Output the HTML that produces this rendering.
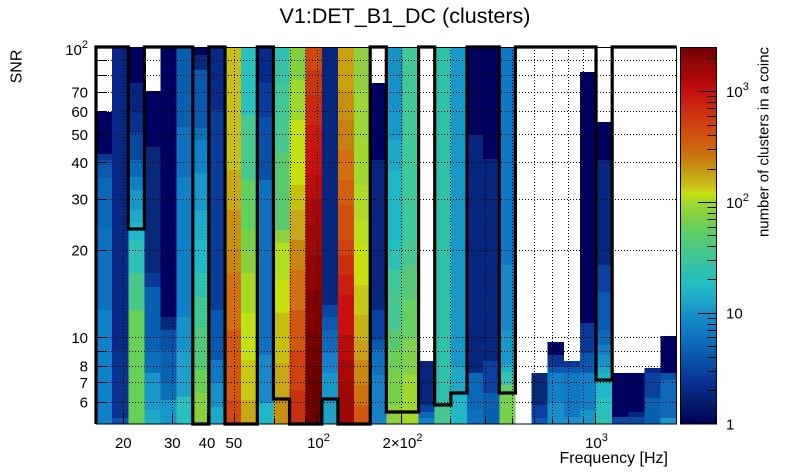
<!DOCTYPE html>
<html><head><meta charset="utf-8"><style>
html,body{margin:0;padding:0;background:#fff;}
svg{display:block;font-family:"Liberation Sans",Arial,sans-serif;}
</style></head><body>
<svg width="805" height="472" viewBox="0 0 805 472" xmlns="http://www.w3.org/2000/svg">
<defs>
<linearGradient id="cb" gradientUnits="userSpaceOnUse" x1="0" y1="424" x2="0" y2="47">
<stop offset="0" stop-color="#00005a"/>
<stop offset="0.019" stop-color="#020a60"/>
<stop offset="0.064" stop-color="#062070"/>
<stop offset="0.109" stop-color="#083090"/>
<stop offset="0.151" stop-color="#0a48a0"/>
<stop offset="0.196" stop-color="#0a60b0"/>
<stop offset="0.241" stop-color="#1078c0"/>
<stop offset="0.294" stop-color="#1890c8"/>
<stop offset="0.328" stop-color="#20a8c8"/>
<stop offset="0.373" stop-color="#20c0c0"/>
<stop offset="0.408" stop-color="#30c0b0"/>
<stop offset="0.461" stop-color="#48c888"/>
<stop offset="0.514" stop-color="#60d060"/>
<stop offset="0.548" stop-color="#80d048"/>
<stop offset="0.586" stop-color="#a0d830"/>
<stop offset="0.613" stop-color="#c8e010"/>
<stop offset="0.629" stop-color="#c8c018"/>
<stop offset="0.655" stop-color="#c8a818"/>
<stop offset="0.682" stop-color="#c89010"/>
<stop offset="0.719" stop-color="#c87010"/>
<stop offset="0.753" stop-color="#d05810"/>
<stop offset="0.798" stop-color="#d04010"/>
<stop offset="0.841" stop-color="#c82810"/>
<stop offset="0.881" stop-color="#c81010"/>
<stop offset="0.912" stop-color="#b00808"/>
<stop offset="0.958" stop-color="#900808"/>
<stop offset="1" stop-color="#6e0000"/>
</linearGradient>
<clipPath id="pc"><rect x="96" y="47" width="580.7" height="377"/></clipPath>
</defs>

<!-- Title -->
<text x="405" y="23" font-size="21.5" text-anchor="middle">V1:DET_B1_DC (clusters)</text>

<!-- Heatmap -->
<g clip-path="url(#pc)" shape-rendering="crispEdges">
<g transform="translate(96,0)">
<rect width="16.4" y="112" height="42" fill="#000060"/><rect width="16.4" y="154" height="6" fill="#0a3890"/><rect width="16.4" y="160" height="5" fill="#0a50a8"/><rect width="16.4" y="165" height="13" fill="#0a58b0"/><rect width="16.4" y="178" height="50" fill="#0a68b8"/><rect width="16.4" y="228" height="82" fill="#1070c0"/><rect width="16.4" y="310" height="114" fill="#1080c8"/>
</g>
<g transform="translate(112.13,0)">
<rect width="16.4" y="47" height="303" fill="#082888"/><rect width="16.4" y="350" height="68" fill="#0a3490"/><rect width="16.4" y="418" height="6" fill="#0a50a8"/>
</g>
<g transform="translate(128.26,0)">
<rect width="16.4" y="47" height="36" fill="#000060"/><rect width="16.4" y="83" height="30" fill="#062680"/><rect width="16.4" y="113" height="20" fill="#08308c"/><rect width="16.4" y="133" height="27" fill="#0a48a0"/><rect width="16.4" y="160" height="17" fill="#0a68b8"/><rect width="16.4" y="177" height="13" fill="#1080c0"/><rect width="16.4" y="190" height="20" fill="#1898c8"/><rect width="16.4" y="210" height="13" fill="#20a8c8"/><rect width="16.4" y="223" height="17" fill="#20b8c8"/><rect width="16.4" y="240" height="33" fill="#30c0b8"/><rect width="16.4" y="273" height="37" fill="#48c88a"/><rect width="16.4" y="310" height="114" fill="#68d058"/>
</g>
<g transform="translate(144.39,0)">
<rect width="16.4" y="91" height="56" fill="#000060"/><rect width="16.4" y="147" height="126" fill="#082878"/><rect width="16.4" y="273" height="14" fill="#0a3a98"/><rect width="16.4" y="287" height="63" fill="#0a60b0"/><rect width="16.4" y="350" height="23" fill="#0a70b8"/><rect width="16.4" y="373" height="37" fill="#1898c8"/><rect width="16.4" y="410" height="14" fill="#20a8c8"/>
</g>
<g transform="translate(160.52,0)">
<rect width="16.4" y="47" height="270" fill="#000060"/><rect width="16.4" y="317" height="13" fill="#082880"/><rect width="16.4" y="330" height="20" fill="#0a50a8"/><rect width="16.4" y="350" height="33" fill="#0a60b0"/><rect width="16.4" y="383" height="17" fill="#0a70b8"/><rect width="16.4" y="400" height="24" fill="#1898c8"/>
</g>
<g transform="translate(176.65,0)">
<rect width="16.4" y="47" height="80" fill="#0a60b0"/><rect width="16.4" y="127" height="50" fill="#1070c0"/><rect width="16.4" y="177" height="140" fill="#1080c8"/><rect width="16.4" y="317" height="33" fill="#1890c8"/><rect width="16.4" y="350" height="47" fill="#20a0c8"/><rect width="16.4" y="397" height="27" fill="#28c0c0"/>
</g>
<g transform="translate(192.78,0)">
<rect width="16.4" y="47" height="8" fill="#000060"/><rect width="16.4" y="55" height="15" fill="#082878"/><rect width="16.4" y="70" height="58" fill="#0a58b0"/><rect width="16.4" y="128" height="12" fill="#0a70b8"/><rect width="16.4" y="140" height="33" fill="#1080c8"/><rect width="16.4" y="173" height="37" fill="#1898c8"/><rect width="16.4" y="210" height="30" fill="#20a8c8"/><rect width="16.4" y="240" height="33" fill="#20b8c8"/><rect width="16.4" y="273" height="24" fill="#30c0b0"/><rect width="16.4" y="297" height="30" fill="#40c890"/><rect width="16.4" y="327" height="43" fill="#50c878"/><rect width="16.4" y="370" height="23" fill="#68d058"/><rect width="16.4" y="393" height="31" fill="#88d040"/>
</g>
<g transform="translate(208.91,0)">
<rect width="16.4" y="47" height="63" fill="#062a88"/><rect width="16.4" y="110" height="200" fill="#0a3c98"/><rect width="16.4" y="310" height="50" fill="#0a58b0"/><rect width="16.4" y="360" height="23" fill="#1078c0"/><rect width="16.4" y="383" height="24" fill="#1890c8"/><rect width="16.4" y="407" height="17" fill="#20a8c8"/>
</g>
<g transform="translate(225.04,0)">
<rect width="16.4" y="47" height="123" fill="#c8c018"/><rect width="16.4" y="170" height="40" fill="#c8a818"/><rect width="16.4" y="210" height="40" fill="#c89010"/><rect width="16.4" y="250" height="23" fill="#c88810"/><rect width="16.4" y="273" height="57" fill="#d07010"/><rect width="16.4" y="330" height="70" fill="#d05810"/><rect width="16.4" y="400" height="24" fill="#d04810"/>
</g>
<g transform="translate(241.17,0)">
<rect width="16.4" y="47" height="68" fill="#28c0c0"/><rect width="16.4" y="115" height="65" fill="#48c890"/><rect width="16.4" y="180" height="50" fill="#60d060"/><rect width="16.4" y="230" height="20" fill="#78d048"/><rect width="16.4" y="250" height="23" fill="#88d040"/><rect width="16.4" y="273" height="40" fill="#a8d828"/><rect width="16.4" y="313" height="47" fill="#c0e018"/><rect width="16.4" y="360" height="40" fill="#c8c818"/><rect width="16.4" y="400" height="24" fill="#c8a818"/>
</g>
<g transform="translate(257.30,0)">
<rect width="16.4" y="47" height="36" fill="#062a88"/><rect width="16.4" y="83" height="34" fill="#0a3c98"/><rect width="16.4" y="117" height="63" fill="#0a50a8"/><rect width="16.4" y="180" height="175" fill="#1070c0"/><rect width="16.4" y="355" height="48" fill="#1888c8"/><rect width="16.4" y="403" height="21" fill="#20b8c8"/>
</g>
<g transform="translate(273.43,0)">
<rect width="16.4" y="47" height="13" fill="#30c0b0"/><rect width="16.4" y="60" height="23" fill="#38c0a8"/><rect width="16.4" y="83" height="34" fill="#40c898"/><rect width="16.4" y="117" height="36" fill="#48c890"/><rect width="16.4" y="153" height="77" fill="#58c870"/><rect width="16.4" y="230" height="13" fill="#90d040"/><rect width="16.4" y="243" height="37" fill="#b0e020"/><rect width="16.4" y="280" height="33" fill="#c8e010"/><rect width="16.4" y="313" height="50" fill="#c8c010"/><rect width="16.4" y="363" height="34" fill="#c8a818"/><rect width="16.4" y="397" height="27" fill="#c89010"/>
</g>
<g transform="translate(289.56,0)">
<rect width="16.4" y="47" height="33" fill="#80d040"/><rect width="16.4" y="80" height="40" fill="#a0d830"/><rect width="16.4" y="120" height="40" fill="#c0e018"/><rect width="16.4" y="160" height="25" fill="#c8e010"/><rect width="16.4" y="185" height="25" fill="#c8c010"/><rect width="16.4" y="210" height="30" fill="#c8a818"/><rect width="16.4" y="240" height="30" fill="#c88810"/><rect width="16.4" y="270" height="40" fill="#d07010"/><rect width="16.4" y="310" height="40" fill="#d05810"/><rect width="16.4" y="350" height="40" fill="#d04010"/><rect width="16.4" y="390" height="34" fill="#c83010"/>
</g>
<g transform="translate(305.69,0)">
<rect width="16.4" y="47" height="23" fill="#d04810"/><rect width="16.4" y="70" height="25" fill="#c83810"/><rect width="16.4" y="95" height="30" fill="#c82810"/><rect width="16.4" y="125" height="25" fill="#c81810"/><rect width="16.4" y="150" height="25" fill="#c81010"/><rect width="16.4" y="175" height="25" fill="#b80c0c"/><rect width="16.4" y="200" height="25" fill="#a80808"/><rect width="16.4" y="225" height="30" fill="#a00808"/><rect width="16.4" y="255" height="35" fill="#900404"/><rect width="16.4" y="290" height="40" fill="#800000"/><rect width="16.4" y="330" height="35" fill="#780000"/><rect width="16.4" y="365" height="59" fill="#700000"/>
</g>
<g transform="translate(321.82,0)">
<rect width="16.4" y="47" height="258" fill="#062680"/><rect width="16.4" y="305" height="12" fill="#0a48a0"/><rect width="16.4" y="317" height="13" fill="#0a58b0"/><rect width="16.4" y="330" height="23" fill="#1068b8"/><rect width="16.4" y="353" height="20" fill="#1880c8"/><rect width="16.4" y="373" height="30" fill="#1898c8"/><rect width="16.4" y="403" height="21" fill="#20a0c8"/>
</g>
<g transform="translate(337.95,0)">
<rect width="16.4" y="47" height="43" fill="#c8a010"/><rect width="16.4" y="90" height="30" fill="#c89010"/><rect width="16.4" y="120" height="30" fill="#c88010"/><rect width="16.4" y="150" height="30" fill="#d07010"/><rect width="16.4" y="180" height="25" fill="#d06010"/><rect width="16.4" y="205" height="35" fill="#d05010"/><rect width="16.4" y="240" height="15" fill="#d04010"/><rect width="16.4" y="255" height="20" fill="#c83010"/><rect width="16.4" y="275" height="20" fill="#c82010"/><rect width="16.4" y="295" height="40" fill="#c81010"/><rect width="16.4" y="335" height="25" fill="#b80c0c"/><rect width="16.4" y="360" height="25" fill="#a80808"/><rect width="16.4" y="385" height="39" fill="#a00808"/>
</g>
<g transform="translate(354.08,0)">
<rect width="16.4" y="47" height="43" fill="#90d040"/><rect width="16.4" y="90" height="50" fill="#98d838"/><rect width="16.4" y="140" height="45" fill="#a0d830"/><rect width="16.4" y="185" height="35" fill="#b0d828"/><rect width="16.4" y="220" height="25" fill="#b8e020"/><rect width="16.4" y="245" height="40" fill="#c8e010"/><rect width="16.4" y="285" height="30" fill="#c8c818"/><rect width="16.4" y="315" height="25" fill="#c8b018"/><rect width="16.4" y="340" height="20" fill="#c8a018"/><rect width="16.4" y="360" height="25" fill="#c88810"/><rect width="16.4" y="385" height="20" fill="#d07010"/><rect width="16.4" y="405" height="19" fill="#d05810"/>
</g>
<g transform="translate(370.21,0)">
<rect width="16.4" y="83" height="77" fill="#000060"/><rect width="16.4" y="160" height="150" fill="#062680"/><rect width="16.4" y="310" height="30" fill="#0a40a0"/><rect width="16.4" y="340" height="10" fill="#0a58b0"/><rect width="16.4" y="350" height="25" fill="#1070c0"/><rect width="16.4" y="375" height="49" fill="#1880c8"/>
</g>
<g transform="translate(386.34,0)">
<rect width="16.4" y="47" height="63" fill="#1890c8"/><rect width="16.4" y="110" height="30" fill="#1898c8"/><rect width="16.4" y="140" height="30" fill="#20a8c8"/><rect width="16.4" y="170" height="70" fill="#20b8c8"/><rect width="16.4" y="240" height="10" fill="#20c0c0"/><rect width="16.4" y="250" height="20" fill="#30c0b0"/><rect width="16.4" y="270" height="20" fill="#40c898"/><rect width="16.4" y="290" height="40" fill="#48c890"/><rect width="16.4" y="330" height="20" fill="#58c870"/><rect width="16.4" y="350" height="20" fill="#68d058"/><rect width="16.4" y="370" height="35" fill="#78d048"/><rect width="16.4" y="405" height="19" fill="#90d040"/>
</g>
<g transform="translate(402.47,0)">
<rect width="16.4" y="47" height="193" fill="#40c898"/><rect width="16.4" y="240" height="25" fill="#48c890"/><rect width="16.4" y="265" height="35" fill="#58c878"/><rect width="16.4" y="300" height="40" fill="#68d060"/><rect width="16.4" y="340" height="35" fill="#80d048"/><rect width="16.4" y="375" height="35" fill="#a0d830"/><rect width="16.4" y="410" height="14" fill="#a8d828"/>
</g>
<g transform="translate(418.60,0)">
<rect width="16.4" y="361" height="44" fill="#062680"/><rect width="16.4" y="405" height="7" fill="#0a40a0"/><rect width="16.4" y="412" height="6" fill="#1068b8"/><rect width="16.4" y="418" height="6" fill="#1080c8"/>
</g>
<g transform="translate(434.73,0)">
<rect width="16.4" y="47" height="358" fill="#30c0a8"/><rect width="16.4" y="405" height="19" fill="#48c890"/>
</g>
<g transform="translate(450.86,0)">
<rect width="16.4" y="47" height="320" fill="#1898c8"/><rect width="16.4" y="367" height="26" fill="#20a8c8"/><rect width="16.4" y="393" height="31" fill="#20b8c8"/>
</g>
<g transform="translate(466.99,0)">
<rect width="16.4" y="47" height="88" fill="#000060"/><rect width="16.4" y="135" height="238" fill="#062680"/><rect width="16.4" y="373" height="37" fill="#0a68b8"/><rect width="16.4" y="410" height="14" fill="#1070c0"/>
</g>
<g transform="translate(483.12,0)">
<rect width="16.4" y="47" height="112" fill="#000060"/><rect width="16.4" y="159" height="202" fill="#062680"/><rect width="16.4" y="361" height="32" fill="#0a40a0"/><rect width="16.4" y="393" height="31" fill="#0a60b0"/>
</g>
<g transform="translate(499.25,0)">
<rect width="16.4" y="47" height="218" fill="#1078c8"/><rect width="16.4" y="265" height="65" fill="#1888c8"/><rect width="16.4" y="330" height="35" fill="#1898c8"/><rect width="16.4" y="365" height="7" fill="#20b0c8"/><rect width="16.4" y="372" height="13" fill="#38c0b0"/><rect width="16.4" y="385" height="8" fill="#60d060"/><rect width="16.4" y="393" height="31" fill="#78d050"/>
</g>
<g transform="translate(531.51,0)">
<rect width="16.4" y="373" height="32" fill="#082878"/><rect width="16.4" y="405" height="13" fill="#0a40a0"/><rect width="16.4" y="418" height="6" fill="#0a58b0"/>
</g>
<g transform="translate(547.64,0)">
<rect width="16.4" y="342" height="13" fill="#000060"/><rect width="16.4" y="355" height="12" fill="#0a3490"/><rect width="16.4" y="367" height="6" fill="#0a58b0"/><rect width="16.4" y="373" height="30" fill="#1080c8"/><rect width="16.4" y="403" height="21" fill="#1890c8"/>
</g>
<g transform="translate(563.77,0)">
<rect width="16.4" y="361" height="6" fill="#0a3a98"/><rect width="16.4" y="367" height="6" fill="#0a58b0"/><rect width="16.4" y="373" height="44" fill="#1078c0"/><rect width="16.4" y="417" height="7" fill="#1890c8"/>
</g>
<g transform="translate(579.90,0)">
<rect width="16.4" y="72" height="251" fill="#000060"/><rect width="16.4" y="323" height="30" fill="#0a3a98"/><rect width="16.4" y="353" height="20" fill="#0a58b0"/><rect width="16.4" y="373" height="37" fill="#1080c8"/><rect width="16.4" y="410" height="14" fill="#1898c8"/>
</g>
<g transform="translate(596.03,0)">
<rect width="16.4" y="122" height="38" fill="#000060"/><rect width="16.4" y="160" height="105" fill="#062680"/><rect width="16.4" y="265" height="27" fill="#0a40a0"/><rect width="16.4" y="292" height="38" fill="#0a58b0"/><rect width="16.4" y="330" height="15" fill="#1068b8"/><rect width="16.4" y="345" height="10" fill="#1080c8"/><rect width="16.4" y="355" height="12" fill="#1890c8"/><rect width="16.4" y="367" height="6" fill="#20a8c8"/><rect width="16.4" y="373" height="25" fill="#20b8c8"/><rect width="16.4" y="398" height="17" fill="#28c0c0"/><rect width="16.4" y="415" height="9" fill="#30c0b0"/>
</g>
<g transform="translate(612.16,0)">
<rect width="16.4" y="373" height="44" fill="#000060"/><rect width="16.4" y="417" height="7" fill="#0a48a0"/>
</g>
<g transform="translate(628.29,0)">
<rect width="16.4" y="373" height="39" fill="#000060"/><rect width="16.4" y="412" height="5" fill="#062680"/><rect width="16.4" y="417" height="7" fill="#0a48a0"/>
</g>
<g transform="translate(644.42,0)">
<rect width="16.4" y="368" height="5" fill="#062680"/><rect width="16.4" y="373" height="25" fill="#0a40a0"/><rect width="16.4" y="398" height="26" fill="#0a60b0"/>
</g>
<g transform="translate(660.55,0)">
<rect width="16.4" y="336" height="37" fill="#000060"/><rect width="16.4" y="373" height="7" fill="#0a50a8"/><rect width="16.4" y="380" height="38" fill="#1068b8"/><rect width="16.4" y="418" height="6" fill="#1898c8"/>
</g>
</g>

<!-- Grid -->
<g stroke="#000" stroke-width="1" stroke-dasharray="1 2" fill="none">
<path d="M123.5,47V424M172.5,47V424M207.5,47V424M234.5,47V424M256.5,47V424M274.5,47V424M290.5,47V424M305.5,47V424M317.5,47V424M401.5,47V424M450.5,47V424M485.5,47V424M512.5,47V424M534.5,47V424M552.5,47V424M568.5,47V424M583.5,47V424M595.5,47V424"/>
<path d="M96,402.5H677M96,382.5H677M96,366.5H677M96,351.5H677M96,337.5H677M96,250.5H677M96,199.5H677M96,162.5H677M96,134.5H677M96,111.5H677M96,92.5H677M96,75.5H677M96,60.5H677"/>
</g>

<!-- Axis ticks -->
<g stroke="#000" stroke-width="1" fill="none">
<path d="M96,402.5h11M96,382.5h11M96,366.5h11M96,351.5h11M96,337.5h11M96,250.5h11M96,199.5h11M96,162.5h11M96,134.5h11M96,111.5h11M96,92.5h11M96,75.5h11M96,60.5h11"/>
<path d="M123.5,424v-10M172.5,424v-10M207.5,424v-10M234.5,424v-10M256.5,424v-6M274.5,424v-6M290.5,424v-6M305.5,424v-6M317.5,424v-10M401.5,424v-10M450.5,424v-6M485.5,424v-6M512.5,424v-6M534.5,424v-6M552.5,424v-6M568.5,424v-6M583.5,424v-6M595.5,424v-10"/>
</g>

<!-- Frame -->
<rect x="96.5" y="47.5" width="580" height="376.5" fill="none" stroke="#000" stroke-width="1"/>

<!-- Outline histogram -->
<path d="M96,424V47H128.26V229H144.39V47H192.78V424H208.91V47H225.04V424H257.3V47H273.43V399H289.56V424H321.82V399H337.95V424H370.21V47H386.34V412H418.6V47H434.73V405H450.86V393H466.99V47H499.25V393H515.38V47H596.03V380H612.16V47H676.68" fill="none" stroke="#000" stroke-width="3.2" stroke-linejoin="miter"/>

<!-- Y labels -->
<g font-size="15" text-anchor="end" fill="#000">
<text x="88" y="407.5">6</text>
<text x="88" y="388">7</text>
<text x="88" y="371.5">8</text>
<text x="88" y="343">10</text>
<text x="88" y="255.5">20</text>
<text x="88" y="204.5">30</text>
<text x="88" y="168">40</text>
<text x="88" y="140">50</text>
<text x="88" y="117">60</text>
<text x="88" y="97.5">70</text>
<text x="88" y="55">10<tspan font-size="11" dy="-7">2</tspan></text>
</g>

<!-- X labels -->
<g font-size="15" text-anchor="middle" fill="#000">
<text x="123.3" y="448">20</text>
<text x="172.3" y="448">30</text>
<text x="207" y="448">40</text>
<text x="233.9" y="448">50</text>
<text x="318.5" y="448">10<tspan font-size="11" dy="-7">2</tspan></text>
<text x="402.5" y="448">2×10<tspan font-size="11" dy="-7">2</tspan></text>
<text x="596.5" y="448">10<tspan font-size="11" dy="-7">3</tspan></text>
</g>

<text x="668" y="463" font-size="16" text-anchor="end">Frequency [Hz]</text>
<text transform="translate(21.5,66.5) rotate(-90)" font-size="16" text-anchor="middle">SNR</text>

<!-- Color bar -->
<rect x="680" y="47" width="37" height="377" fill="url(#cb)"/>
<rect x="680.5" y="47.5" width="36" height="376.5" fill="none" stroke="#000" stroke-width="1"/>
<g stroke="#000" stroke-width="1" fill="none">
<path d="M698,313.5H717M698,202.5H717M698,91.5H717M698,423.5H717"/>
<path d="M707.5,390.5H717M707.5,371.5H717M707.5,357.5H717M707.5,346.5H717M707.5,337.5H717M707.5,330.5H717M707.5,324.5H717M707.5,318.5H717M707.5,279.5H717M707.5,260.5H717M707.5,246.5H717M707.5,235.5H717M707.5,227.5H717M707.5,219.5H717M707.5,213.5H717M707.5,207.5H717M707.5,169.5H717M707.5,149.5H717M707.5,135.5H717M707.5,125.5H717M707.5,116.5H717M707.5,108.5H717M707.5,102.5H717M707.5,96.5H717M707.5,58.5H717"/>
</g>
<g font-size="15" fill="#000">
<text x="726" y="429.5">1</text>
<text x="726" y="318.5">10</text>
<text x="726" y="208">10<tspan font-size="11" dy="-7">2</tspan></text>
<text x="726" y="97">10<tspan font-size="11" dy="-7">3</tspan></text>
</g>
<text transform="translate(768.5,237) rotate(-90)" font-size="15" textLength="190" lengthAdjust="spacingAndGlyphs">number of clusters in a coinc</text>
</svg>
</body></html>
